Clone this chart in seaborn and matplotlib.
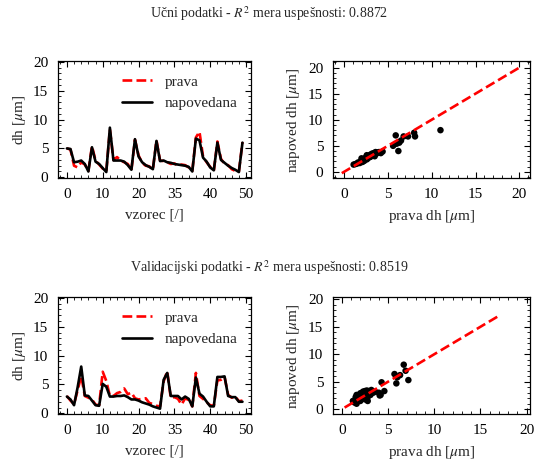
import numpy as np
import matplotlib
matplotlib.use("Agg")
import matplotlib.pyplot as plt
import seaborn as sns
from matplotlib.ticker import MultipleLocator

sns.set_style("ticks")
plt.rcParams['font.family'] = ['Liberation Serif', 'DejaVu Serif']
plt.rcParams['mathtext.fontset'] = 'stix'
plt.rcParams['font.size'] = 11

# ucni podatki (first 50 samples)
prava_ucni = [5.0, 4.8, 2.0, 1.7, 2.6, 2.2, 1.1, 5.4, 2.9, 2.2,
              1.5, 1.0, 8.3, 3.0, 3.5, 2.9, 2.6, 2.3, 1.2, 6.5,
              3.8, 2.5, 2.0, 1.9, 1.3, 6.4, 2.9, 2.8, 2.6, 2.3,
              2.4, 2.0, 2.2, 2.1, 1.7, 1.1, 6.9, 7.9, 3.6, 2.6,
              1.8, 1.1, 6.2, 3.2, 2.3, 2.1, 1.4, 1.1, 1.0, 6.1]
napoved_ucni = [5.0, 4.9, 2.6, 2.7, 2.9, 2.3, 1.0, 5.2, 2.7, 2.3,
                1.6, 0.9, 8.6, 2.9, 2.9, 2.9, 2.7, 2.1, 1.3, 6.6,
                3.6, 2.6, 2.1, 1.8, 1.4, 6.3, 2.8, 2.9, 2.6, 2.5,
                2.3, 2.2, 2.1, 2.0, 1.8, 1.0, 6.7, 6.4, 3.4, 2.7,
                1.7, 1.2, 6.0, 3.0, 2.5, 2.0, 1.6, 1.3, 0.9, 6.0]

# validacijski podatki
prava_val = [3.0, 2.2, 1.6, 4.0, 6.5, 3.0, 2.7, 2.4, 1.5, 1.4,
             7.2, 5.6, 3.0, 3.0, 3.5, 3.7, 4.3, 3.3, 3.6, 2.6,
             2.4, 2.5, 2.6, 1.8, 1.6, 1.3, 1.2, 5.5, 7.3, 2.6,
             2.8, 2.5, 1.5, 2.6, 2.3, 1.2, 7.0, 3.0, 2.5, 1.9,
             1.4, 1.3, 5.7, 5.8, 6.3, 3.2, 2.7, 2.9, 2.1, 2.2]
napoved_val = [2.9, 2.4, 1.4, 4.5, 8.1, 3.1, 3.0, 2.2, 1.4, 1.3,
               5.1, 4.6, 2.9, 2.9, 3.0, 3.0, 3.1, 2.8, 2.4, 2.4,
               2.2, 1.9, 1.7, 1.5, 1.2, 1.0, 0.8, 5.8, 7.0, 3.0,
               3.0, 3.0, 2.4, 2.9, 2.5, 1.2, 6.2, 3.4, 2.9, 2.0,
               1.2, 1.2, 6.3, 6.3, 6.4, 3.0, 2.8, 2.8, 2.0, 2.0]

# scatter: prava vs napoved
sc_ucni_x = [1.1, 1.3, 1.5, 1.6, 1.8, 1.9, 2.0, 2.1, 2.2, 2.3, 2.4, 2.5, 2.6, 2.7,
             2.8, 2.9, 3.0, 3.1, 3.2, 3.3, 3.4, 3.5, 3.6, 3.7, 3.8, 4.0, 4.2, 4.4,
             2.0, 2.6, 3.0, 3.5,
             5.6, 5.9, 6.0, 6.2, 6.3, 6.5, 6.8, 7.3, 8.0, 8.1, 11.0]
sc_ucni_y = [1.4, 1.5, 1.6, 1.8, 1.7, 2.0, 2.2, 1.9, 2.3, 2.1, 2.5, 2.8, 2.4, 2.6,
             3.0, 2.8, 3.3, 3.0, 3.5, 3.2, 3.6, 3.3, 3.8, 3.5, 3.7, 3.8, 3.6, 3.9,
             2.6, 3.2, 2.9, 3.0,
             5.0, 7.0, 5.4, 4.0, 5.6, 6.0, 6.8, 6.8, 7.5, 6.8, 8.0]
sc_val_x = [1.2, 1.4, 1.5, 1.6, 1.7, 1.8, 1.9, 2.0, 2.1, 2.2, 2.3, 2.4, 2.5,
            2.6, 2.7, 2.8, 2.9, 3.0, 3.1, 3.2, 3.4, 3.6, 2.0, 2.5, 2.8, 1.6,
            4.0, 4.1, 4.2, 4.3, 4.6,
            5.7, 5.9, 6.0, 6.3, 6.7, 6.9, 7.2]
sc_val_y = [1.5, 1.2, 2.2, 1.0, 1.8, 2.5, 2.0, 2.9, 2.4, 3.0, 3.2, 2.7, 3.3,
            3.1, 3.4, 2.2, 3.3, 3.0, 2.6, 3.5, 3.0, 3.2, 1.5, 1.8, 1.5, 2.6,
            3.0, 2.5, 2.6, 4.9, 3.3,
            6.4, 4.7, 5.8, 6.2, 8.1, 7.0, 5.3]

diag_ucni = [-0.25, 20.2]
diag_val = [0.3, 17.2]

xtick_pos = [0, 10, 20, 30, 40, 50]
xtick_lab = ['0', '10', '20', '35', '40', '50']

fig = plt.figure(figsize=(5.38, 4.61), dpi=100)

rows = [
    (0.613, 'Učni podatki - $R^2$ mera uspešnosti: 0.8872', 0.970,
     prava_ucni, napoved_ucni, sc_ucni_x, sc_ucni_y, diag_ucni, (-1.25, 21.2)),
    (0.101, 'Validacijski podatki - $R^2$ mera uspešnosti: 0.8519', 0.419,
     prava_val, napoved_val, sc_val_x, sc_val_y, diag_val, (-0.95, 20.35)),
]

def style(ax):
    ax.tick_params(which='both', direction='in', top=True, right=True,
                   colors='black', labelsize=11)
    ax.tick_params(which='major', length=4, width=0.8, pad=7)
    ax.tick_params(which='minor', length=2, width=0.6)
    for s in ax.spines.values():
        s.set_color('black')
        s.set_linewidth(0.9)

for bottom, title, ty, prava, napoved, sx, sy, diag, lim in rows:
    fig.text(0.5, ty, title, ha='center', va='center', fontsize=10)
    idx = np.arange(len(prava))

    ax1 = fig.add_axes([0.108, bottom, 0.359, 0.254])
    sns.lineplot(x=idx, y=prava, ax=ax1, color='red', linestyle='--',
                 linewidth=1.9, label='prava')
    sns.lineplot(x=idx, y=napoved, ax=ax1, color='black', linewidth=1.9,
                 label='napovedana')
    ax1.set_ylim(-0.2, 20.1)
    ax1.set_xticks(xtick_pos)
    ax1.set_xticklabels(xtick_lab)
    ax1.set_yticks([0, 5, 10, 15, 20])
    ax1.xaxis.set_minor_locator(MultipleLocator(2))
    ax1.yaxis.set_minor_locator(MultipleLocator(1))
    ax1.set_xlabel('vzorec [/]', labelpad=5)
    ax1.set_ylabel(r'dh [$\mu$m]')
    ax1.legend(loc='upper right', frameon=False, fontsize=11)
    style(ax1)

    ax2 = fig.add_axes([0.619, bottom, 0.366, 0.254])
    sns.lineplot(x=diag, y=diag, ax=ax2, color='red', linestyle='--',
                 linewidth=1.9)
    sns.scatterplot(x=sx, y=sy, ax=ax2, color='black', s=22,
                    edgecolor='none')
    ax2.set_xlim(*lim)
    ax2.set_ylim(*lim)
    ax2.set_xticks([0, 5, 10, 15, 20])
    ax2.set_yticks([0, 5, 10, 15, 20])
    ax2.xaxis.set_minor_locator(MultipleLocator(1))
    ax2.yaxis.set_minor_locator(MultipleLocator(1))
    ax2.set_xlabel(r'prava dh [$\mu$m]', labelpad=5)
    ax2.set_ylabel(r'napoved dh [$\mu$m]')
    style(ax2)

fig.savefig('out.png', dpi=100)
